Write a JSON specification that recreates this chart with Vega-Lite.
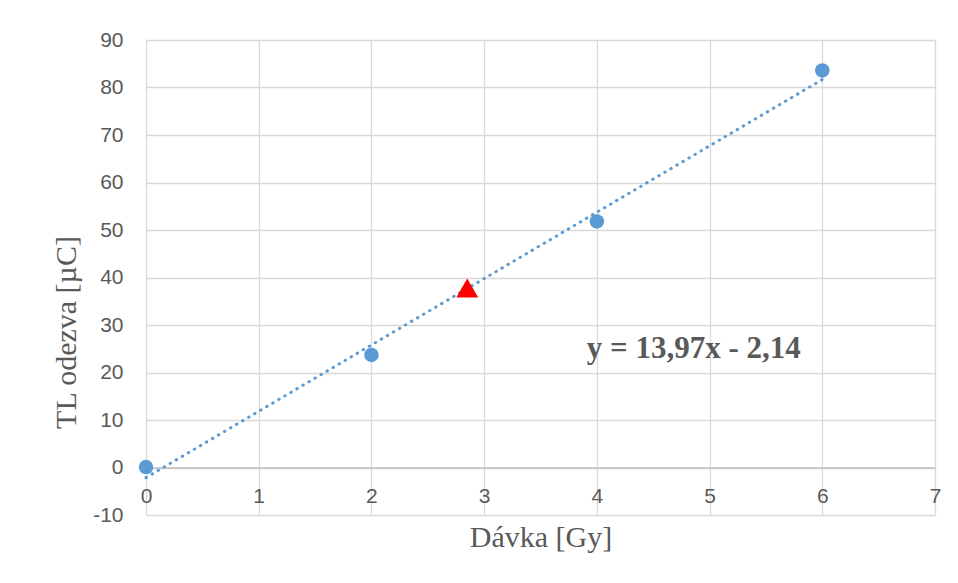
{
  "$schema": "https://vega.github.io/schema/vega-lite/v6.json",
  "width": 789,
  "height": 475,
  "autosize": {"type": "none"},
  "padding": {"left": 146, "top": 40, "right": 23, "bottom": 68},
  "background": "white",
  "config": {
    "view": {"stroke": null},
    "axis": {
      "labelFont": "Liberation Sans",
      "labelFontSize": 21,
      "labelColor": "#595959",
      "labelExpr": "'' + datum.value",
      "titleFont": "Liberation Serif",
      "titleFontSize": 30,
      "titleFontWeight": "normal",
      "titleColor": "#595959",
      "gridColor": "#d9d9d9",
      "gridWidth": 1.3,
      "ticks": false
    }
  },
  "datasets": {
    "fit": [
      {"x": 0, "y": -2.14},
      {"x": 6, "y": 81.68}
    ],
    "points": [
      {"x": 0, "y": 0.1},
      {"x": 2, "y": 23.7},
      {"x": 4, "y": 51.8},
      {"x": 6, "y": 83.6}
    ],
    "sample": [
      {"x": 2.85, "y": 37.8}
    ],
    "eq": [
      {"x": 4.86, "y": 23.0, "label": "y = 13,97x - 2,14"}
    ]
  },
  "encoding": {
    "x": {
      "field": "x",
      "type": "quantitative",
      "scale": {"domain": [0, 7], "nice": false, "zero": false},
      "axis": {
        "title": "Dávka [Gy]",
        "values": [0, 1, 2, 3, 4, 5, 6, 7],
        "offset": -47.5,
        "domainColor": "#bfbfbf",
        "domainWidth": 1.5,
        "labelPadding": 18,
        "labelFlush": false,
        "titleY": 78.5,
        "titleBaseline": "alphabetic"
      }
    },
    "y": {
      "field": "y",
      "type": "quantitative",
      "scale": {"domain": [-10, 90], "nice": false, "zero": false},
      "axis": {
        "title": "TL odezva [µC]",
        "values": [-10, 0, 10, 20, 30, 40, 50, 60, 70, 80, 90],
        "domain": false,
        "labelPadding": 23,
        "titleX": -71,
        "titleY": 292,
        "titleBaseline": "alphabetic"
      }
    }
  },
  "layer": [
    {
      "data": {"name": "fit"},
      "mark": {"type": "line", "color": "#5B9BD5", "strokeWidth": 3, "strokeCap": "round", "strokeDash": [0.5, 6.5]}
    },
    {
      "data": {"name": "points"},
      "mark": {"type": "circle", "color": "#5B9BD5", "size": 210, "opacity": 1}
    },
    {
      "data": {"name": "sample"},
      "mark": {"type": "point", "shape": "triangle-up", "filled": true, "color": "#FF0000", "size": 480, "opacity": 1}
    },
    {
      "data": {"name": "eq"},
      "mark": {"type": "text", "font": "Liberation Serif", "fontSize": 31, "fontWeight": "bold", "color": "#595959", "align": "center", "baseline": "alphabetic"},
      "encoding": {"text": {"field": "label"}}
    }
  ]
}
